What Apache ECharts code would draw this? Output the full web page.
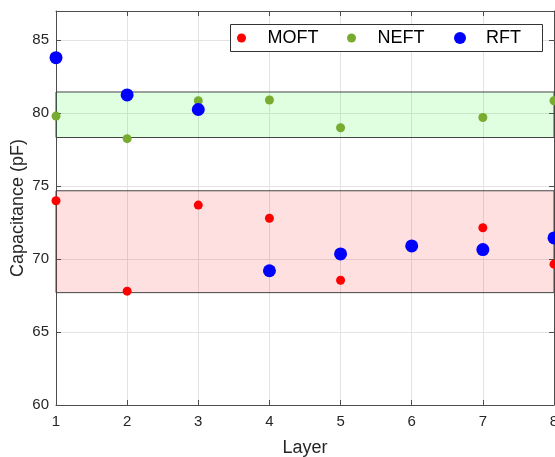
<!DOCTYPE html>
<html>
<head>
<meta charset="utf-8">
<script src="https://cdn.jsdelivr.net/npm/echarts@6/dist/echarts.min.js"></script>
<style>
  html, body { margin: 0; padding: 0; background: #fff; }
  #chart { width: 555px; height: 457px; }
</style>
</head>
<body>
<div id="chart"></div>
<script>
// Layer numbers and measured capacitance per method
const layers = [1, 2, 3, 4, 5, 6, 7, 8];
const moftLayers = [1, 2, 3, 4, 5, 7, 8];
const moftValues = [74.0, 67.8, 73.7, 72.8, 68.55, 72.15, 69.65];
const neftLayers = [1, 2, 3, 4, 5, 7, 8];
const neftValues = [79.8, 78.25, 80.85, 80.9, 79.0, 79.7, 80.85];
const rftValues = [83.8, 81.25, 80.25, 69.2, 70.35, 70.9, 70.65, 71.45];

// Shaded ranges (lower / upper bound) for MOFT and NEFT
const bandNames = ['MOFT range', 'NEFT range'];
const bandLow = [67.7, 78.33];
const bandHigh = [74.68, 81.45];
const bandFill = ['rgba(255,0,0,0.12)', 'rgba(0,255,0,0.12)'];

const yTicks = [60, 65, 70, 75, 80, 85];

const pairs = (xs, ys) => xs.map((x, i) => [x, ys[i]]);

const tickColor = '#262626';
const lineColor = '#4d4d4d';
const font = 'Liberation Sans, Arial, Helvetica, sans-serif';

const chart = echarts.init(document.getElementById('chart'), null, { renderer: 'canvas' });

const legendBase = {
  orient: 'horizontal',
  padding: 0,
  itemWidth: 42,
  textStyle: { fontFamily: font, fontSize: 18, color: '#000' },
  selectedMode: false
};

chart.setOption({
  animation: false,
  backgroundColor: '#fff',
  grid: { left: 56, right: 1, top: 11, bottom: 52, containLabel: false, outerBoundsMode: 'none' },
  xAxis: [
    {
      type: 'value', min: 1, max: 8, interval: 1, position: 'bottom',
      name: 'Layer', nameLocation: 'middle', nameGap: 34, nameMoveOverlap: false,
      nameTextStyle: { fontFamily: font, fontSize: 18, color: tickColor },
      axisLine: { show: true, onZero: false, lineStyle: { color: lineColor, width: 1 } },
      axisTick: { show: true, inside: true, length: 5, lineStyle: { color: lineColor } },
      axisLabel: { fontFamily: font, fontSize: 15, color: tickColor, margin: 9 },
      splitLine: { show: true, lineStyle: { color: '#e3e3e3', width: 1 } }
    },
    {
      type: 'value', min: 1, max: 8, interval: 1, position: 'top',
      axisLine: { show: true, onZero: false, lineStyle: { color: lineColor, width: 1 } },
      axisTick: { show: true, inside: true, length: 5, lineStyle: { color: lineColor } },
      axisLabel: { show: false },
      splitLine: { show: false }
    }
  ],
  yAxis: [
    {
      type: 'value', min: yTicks[0], max: 87, interval: 5, position: 'left',
      name: 'Capacitance (pF)', nameLocation: 'middle', nameGap: 29, nameMoveOverlap: false,
      nameTextStyle: { fontFamily: font, fontSize: 18, color: tickColor },
      axisLine: { show: true, onZero: false, lineStyle: { color: lineColor, width: 1 } },
      axisTick: { show: true, inside: true, length: 5, lineStyle: { color: lineColor } },
      axisLabel: {
        fontFamily: font, fontSize: 15, color: tickColor, margin: 7,
        formatter: v => (yTicks.includes(v) ? String(v) : '')
      },
      splitLine: { show: true, lineStyle: { color: '#e3e3e3', width: 1 } }
    },
    {
      type: 'value', min: yTicks[0], max: 87, interval: 5, position: 'right',
      axisLine: { show: true, onZero: false, lineStyle: { color: lineColor, width: 1 } },
      axisTick: { show: true, inside: true, length: 5, lineStyle: { color: lineColor } },
      axisLabel: { show: false },
      splitLine: { show: false }
    }
  ],
  legend: [
    Object.assign({}, legendBase, { left: 237, top: 29, itemHeight: 9, data: [{ name: 'MOFT', icon: 'circle' }] }),
    Object.assign({}, legendBase, { left: 347, top: 29, itemHeight: 9, data: [{ name: 'NEFT', icon: 'circle' }] }),
    Object.assign({}, legendBase, { left: 454, top: 29, itemHeight: 12, data: [{ name: 'RFT', icon: 'circle' }] })
  ],
  graphic: [
    {
      type: 'rect', z: 3, left: 230, top: 24,
      shape: { width: 312, height: 27 },
      style: { fill: '#fff', stroke: '#333', lineWidth: 1 }
    }
  ],
  series: [
    {
      name: 'ranges', type: 'scatter', data: [], z: 1,
      markArea: {
        silent: true,
        data: bandNames.map((n, i) => [
          { name: n, xAxis: layers[0], yAxis: bandLow[i], itemStyle: { color: bandFill[i], borderColor: '#444', borderWidth: 1 } },
          { xAxis: layers[layers.length - 1], yAxis: bandHigh[i] }
        ]),
        label: { show: false }
      }
    },
    {
      name: 'MOFT', type: 'scatter', z: 3, symbol: 'circle', symbolSize: 9,
      itemStyle: { color: '#ff0000', opacity: 1 },
      data: pairs(moftLayers, moftValues)
    },
    {
      name: 'NEFT', type: 'scatter', z: 3, symbol: 'circle', symbolSize: 9,
      itemStyle: { color: '#77ac30', opacity: 1 },
      data: pairs(neftLayers, neftValues)
    },
    {
      name: 'RFT', type: 'scatter', z: 4, symbol: 'circle', symbolSize: 13,
      itemStyle: { color: '#0000ff', opacity: 1 },
      data: pairs(layers, rftValues)
    }
  ]
});
</script>
</body>
</html>
